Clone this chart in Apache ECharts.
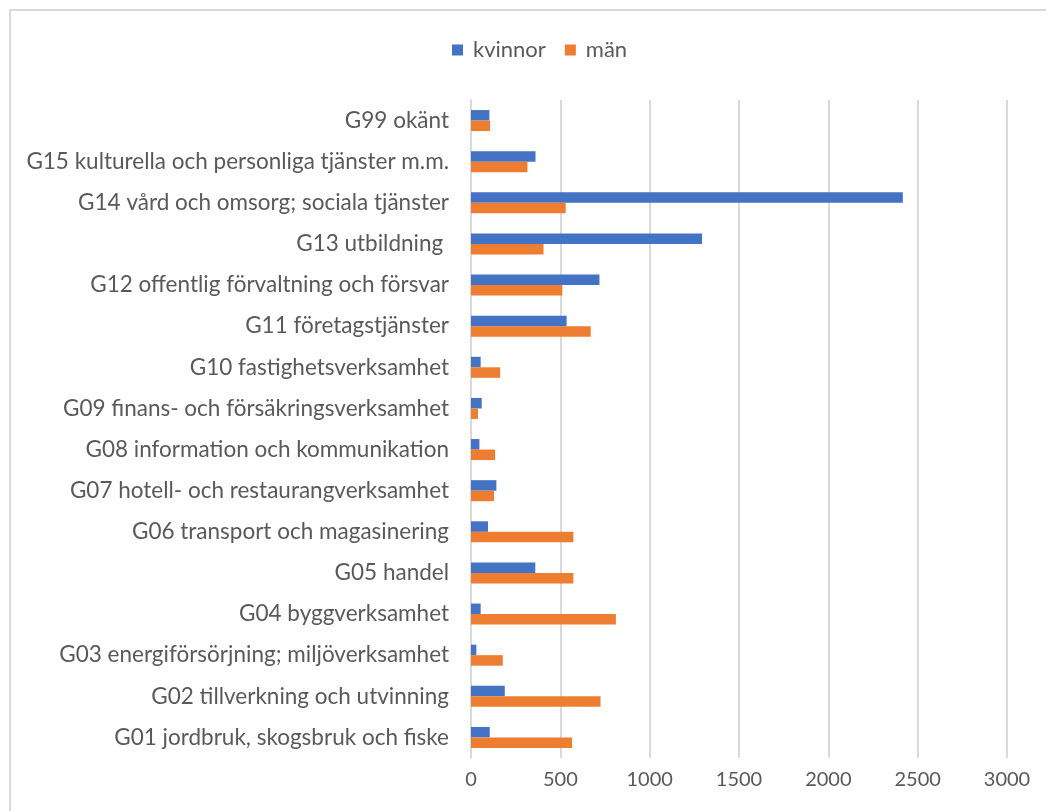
<!DOCTYPE html>
<html>
<head>
<meta charset="utf-8">
<script src="https://cdn.jsdelivr.net/npm/echarts@6/dist/echarts.min.js"></script>
<style>
html,body{margin:0;padding:0;background:#fff;}
#chart{width:1046px;height:811px;}
</style>
</head>
<body>
<div id="chart"></div>
<script>
// categories bottom to top
const categories = [
  "G01 jordbruk, skogsbruk och fiske",
  "G02 tillverkning och utvinning",
  "G03 energiförsörjning; miljöverksamhet",
  "G04 byggverksamhet",
  "G05 handel",
  "G06 transport och magasinering",
  "G07 hotell- och restaurangverksamhet",
  "G08 information och kommunikation",
  "G09 finans- och försäkringsverksamhet",
  "G10 fastighetsverksamhet",
  "G11 företagstjänster",
  "G12 offentlig förvaltning och försvar",
  "G13 utbildning ",
  "G14 vård och omsorg; sociala tjänster",
  "G15 kulturella och personliga tjänster m.m.",
  "G99 okänt"
];
const kvinnor = [105, 189, 30, 54, 360, 95, 142, 47, 60, 54, 535, 719, 1293, 2417, 361, 103];
const man     = [566, 725, 178, 811, 573, 573, 129, 135, 39, 163, 670, 511, 406, 530, 316, 107];
const xTicks = { min: 0, max: 3000, interval: 500 };

const font = "Lato, 'Open Sans', sans-serif";
const chart = echarts.init(document.getElementById('chart'));
chart.setOption({
  animation: false,
  backgroundColor: '#ffffff',
  graphic: [
    { type: 'line', shape: { x1: 9.5, y1: 10, x2: 1046, y2: 10 }, style: { stroke: '#d9d9d9', lineWidth: 2 } },
    { type: 'line', shape: { x1: 10, y1: 9.5, x2: 10, y2: 811 }, style: { stroke: '#d9d9d9', lineWidth: 2 } }
  ],
  legend: {
    top: 34,
    left: 447,
    itemWidth: 11,
    itemHeight: 11,
    itemGap: 19,
    icon: 'rect',
    data: ['kvinnor', 'män'],
    textStyle: { color: '#595959', fontSize: 22, fontFamily: font, padding: [0, 0, 0, 5] }
  },
  grid: { left: 471, right: 39, top: 100, bottom: 53, containLabel: false },
  xAxis: {
    type: 'value',
    min: xTicks.min, max: xTicks.max, interval: xTicks.interval,
    axisLine: { show: false },
    axisTick: { show: false },
    splitLine: { lineStyle: { color: '#d9d9d9', width: 2 } },
    axisLabel: { color: '#595959', fontSize: 20, fontFamily: font, margin: 12, formatter: v => String(v) }
  },
  yAxis: {
    type: 'category',
    data: categories,
    axisLine: { show: true, lineStyle: { color: '#d9d9d9', width: 2 } },
    axisTick: { show: false },
    axisLabel: { color: '#595959', fontSize: 22.5, fontFamily: font, margin: 22 }
  },
  series: [
    { name: 'kvinnor', type: 'bar', data: kvinnor, barWidth: 10.5, barGap: '0%', itemStyle: { color: '#4472C4' } },
    { name: 'män', type: 'bar', data: man, barWidth: 10.5, barGap: '0%', itemStyle: { color: '#ED7D31' } }
  ]
});
</script>
</body>
</html>
